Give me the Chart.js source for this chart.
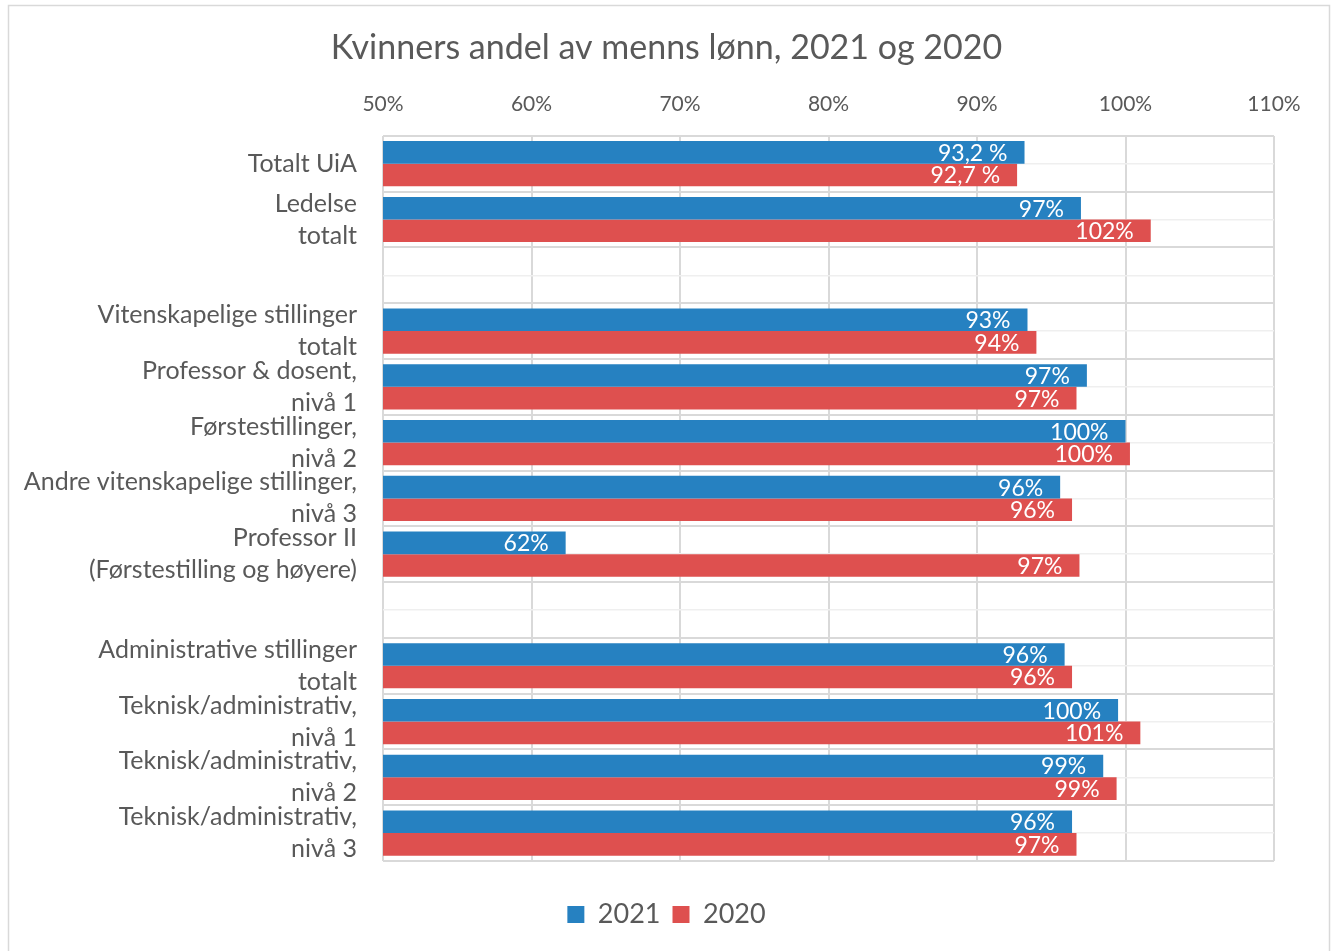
<!DOCTYPE html>
<html>
<head>
<meta charset="utf-8">
<script src="https://cdn.jsdelivr.net/npm/chart.js@4/dist/chart.umd.min.js"></script>
<style>
  html, body { margin: 0; padding: 0; background: #fff; }
  #wrap { position: relative; width: 1333px; height: 951px; }
</style>
</head>
<body>
<div id="wrap"><canvas id="lonnChart" width="1333" height="951"></canvas></div>
<script>
//categories (wrapped like the original), blank rows are spacers
var categories = [
    ["Totalt UiA"],
    ["Ledelse", "totalt"],
    "",
    ["Vitenskapelige stillinger", "totalt"],
    ["Professor & dosent,", "nivå 1"],
    ["Førstestillinger,", "nivå 2"],
    ["Andre vitenskapelige stillinger,", "nivå 3"],
    ["Professor II", "(Førstestilling og høyere)"],
    "",
    ["Administrative stillinger", "totalt"],
    ["Teknisk/administrativ,", "nivå 1"],
    ["Teknisk/administrativ,", "nivå 2"],
    ["Teknisk/administrativ,", "nivå 3"]
];

var values2021 = [93.2, 97.0, null, 93.4, 97.4, 100.0, 95.6, 62.3, null, 95.9, 99.5, 98.5, 96.4];
var values2020 = [92.7, 101.7, null, 94.0, 96.7, 100.3, 96.4, 96.9, null, 96.4, 101.0, 99.4, 96.7];

//labels as printed on the bars
var labels2021 = ["93,2 %", "97%", "", "93%", "97%", "100%", "96%", "62%", "", "96%", "100%", "99%", "96%"];
var labels2020 = ["92,7 %", "102%", "", "94%", "97%", "100%", "96%", "97%", "", "96%", "101%", "99%", "97%"];

var xTicks = [50, 60, 70, 80, 90, 100, 110];

var textGrey = "#595959";
var fontName = "Lato";

//draws the white value labels inside the bar ends
var barLabels = {
    id: 'barLabels',
    afterDatasetsDraw: function(chart) {
        var ctx = chart.ctx;
        var allLabels = [labels2021, labels2020];
        ctx.save();
        ctx.font = "23px " + fontName;
        ctx.fillStyle = "#ffffff";
        ctx.textAlign = "right";
        ctx.textBaseline = "middle";
        chart.data.datasets.forEach(function(ds, di) {
            var meta = chart.getDatasetMeta(di);
            meta.data.forEach(function(bar, i) {
                if (ds.data[i] == null) return;
                ctx.fillText(allLabels[di][i], bar.x - 17, bar.y + 1);
            });
        });
        ctx.restore();
    }
};

//white background + light outer frame
var frame = {
    id: 'frame',
    beforeDraw: function(chart) {
        var ctx = chart.ctx;
        ctx.save();
        ctx.fillStyle = "#ffffff";
        ctx.fillRect(0, 0, chart.width, chart.height);
        ctx.strokeStyle = "#d9d9d9";
        ctx.lineWidth = 1.5;
        ctx.strokeRect(8.5, 5.5, 1321, 960);
        ctx.restore();
    }
};

var lonnContext = document.getElementById('lonnChart').getContext('2d');
var lonnChart = new Chart(lonnContext, {
    type: 'bar',
    data: {
        labels: categories,
        datasets: [{
            label: "2021",
            data: values2021,
            backgroundColor: "#2681C1",
            borderWidth: 0
        }, {
            label: "2020",
            data: values2020,
            backgroundColor: "#DE504F",
            borderWidth: 0
        }] //end datasets
    }, //end data
    options: {
        responsive: false,
        animation: false,
        indexAxis: 'y',
        categoryPercentage: 0.81,
        barPercentage: 1.0,
        layout: {
            padding: { left: 0, right: 0, top: 0, bottom: 13 }
        },
        scales: {
            x: {
                position: 'top',
                min: 50,
                max: 110,
                afterBuildTicks: function(scale) {
                    scale.ticks = xTicks.map(function(v) { return { value: v }; });
                },
                afterFit: function(scale) { scale.height = 57; },
                grid: { color: "#d9d9d9", lineWidth: 2, drawTicks: false },
                border: { display: false },
                ticks: {
                    padding: 19,
                    color: textGrey,
                    font: { family: fontName, size: 21 },
                    callback: function(v) { return v + "%"; }
                }
            },
            y: {
                afterFit: function(scale) { scale.width = 383; },
                grid: { color: "#d9d9d9", lineWidth: 2, drawTicks: false, offset: true },
                border: { display: false },
                ticks: {
                    autoSkip: false,
                    padding: 26,
                    color: textGrey,
                    font: { family: fontName, size: 25, lineHeight: 1.28 }
                }
            },
            //second category axis only for the faint lines through each row; sits on the right
            yMid: {
                type: 'category',
                position: 'right',
                labels: categories,
                offset: true,
                afterFit: function(scale) { scale.width = 59; },
                grid: { color: "#efefef", lineWidth: 1.5, drawTicks: false, offset: false },
                border: { display: false },
                ticks: { display: false }
            }
        }, //end scales
        plugins: {
            title: {
                display: true,
                text: "Kvinners andel av menns lønn, 2021 og 2020",
                color: textGrey,
                font: { family: fontName, size: 34, weight: 'normal' },
                padding: { top: 28, bottom: 10 }
            },
            legend: {
                display: true,
                position: 'bottom',
                title: {
                    display: true,
                    text: '',
                    font: { size: 10 },
                    padding: { top: 16, bottom: 0 }
                },
                labels: {
                    color: textGrey,
                    font: { family: fontName, size: 27 },
                    boxWidth: 17,
                    boxHeight: 17,
                    padding: 12
                }
            },
            tooltip: { enabled: false }
        } //end plugins
    }, //end options
    plugins: [frame, barLabels]
}); //end lonnChart var
</script>
</body>
</html>
